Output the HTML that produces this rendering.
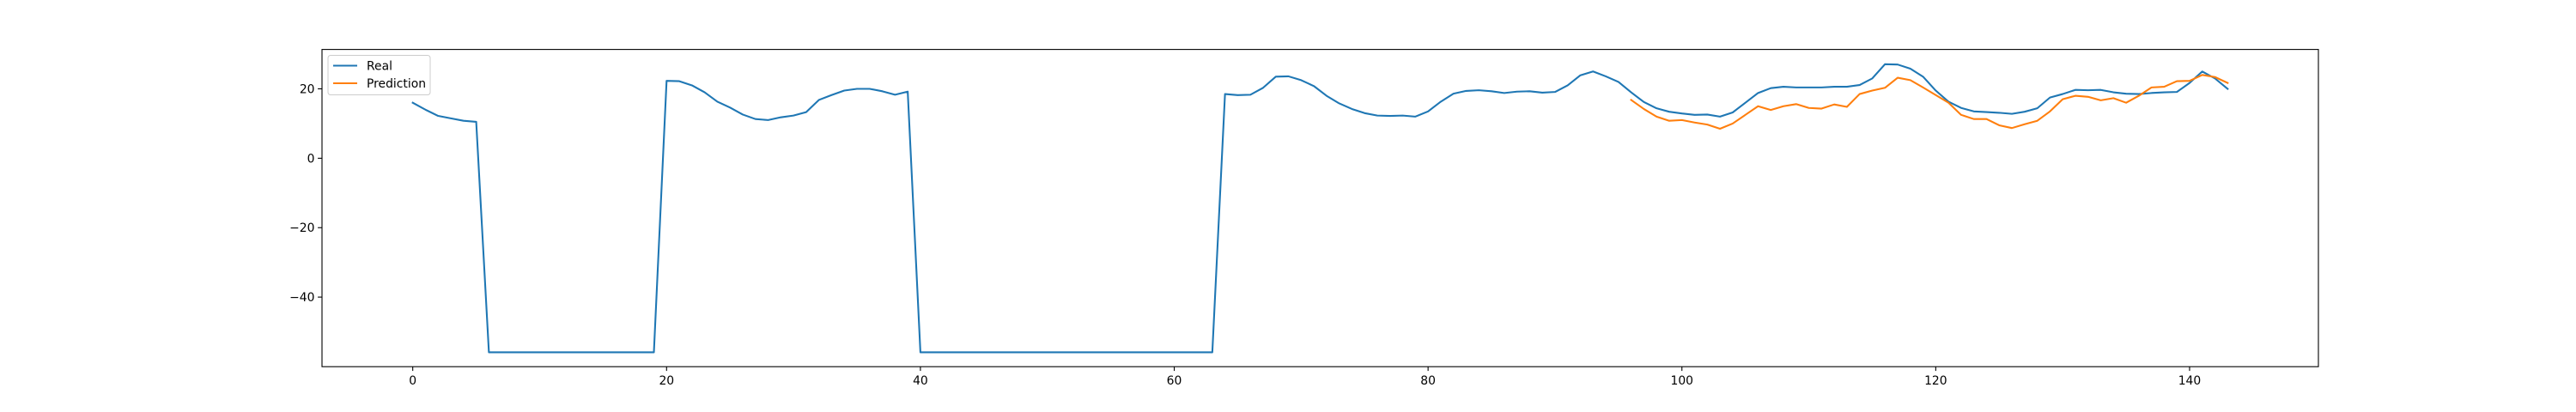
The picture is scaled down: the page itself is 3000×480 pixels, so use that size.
<!DOCTYPE html>
<html><head><meta charset="utf-8"><style>
body{margin:0;background:#fff;}
svg{display:block;font-family:"DejaVu Sans","Liberation Sans",sans-serif;}
</style></head><body>
<svg id="chart" width="3000" height="480">
<rect x="0" y="0" width="3000" height="480" fill="#fff"/>
<g id="plot"></g>
</svg>
<script>
const realX = Array.from({length:144},(_,i)=>i);
const realValues = [16,14,12.2,11.5,10.8,10.5,-55.9,-55.9,-55.9,-55.9,-55.9,-55.9,-55.9,-55.9,-55.9,-55.9,-55.9,-55.9,-55.9,-55.9,
22.3,22.2,21,19,16.3,14.6,12.6,11.3,11,11.8,12.3,13.3,16.8,18.2,19.5,20,20,19.3,18.3,19.2,
-55.9,-55.9,-55.9,-55.9,-55.9,-55.9,-55.9,-55.9,-55.9,-55.9,-55.9,-55.9,-55.9,-55.9,-55.9,-55.9,-55.9,-55.9,-55.9,-55.9,-55.9,-55.9,-55.9,-55.9,
18.5,18.2,18.3,20.3,23.5,23.6,22.5,20.8,18,15.8,14.2,13,12.3,12.2,12.3,12,13.5,16.3,18.6,19.4,19.6,19.3,18.8,19.2,19.3,18.9,19.1,21,23.9,25,23.6,22,
19,16.2,14.4,13.4,12.9,12.5,12.6,12,13.2,16,18.8,20.2,20.6,20.4,20.4,20.4,20.6,20.6,21.1,23,27.1,27,25.8,23.5,19.5,16.3,14.5,13.5,13.3,13.1,12.8,13.4,14.4,17.5,18.5,19.7,19.6,19.7,19,18.6,18.5,18.8,19,19.1,21.7,25,23,20];
const predX = Array.from({length:48},(_,i)=>96+i);
const predValues = [16.8,14.2,12,10.8,11,10.3,9.7,8.5,10,12.5,15,13.9,15,15.6,14.5,14.3,15.5,14.8,18.5,19.5,20.3,23.2,22.5,20.4,18.2,16,12.5,11.3,11.3,9.5,8.7,9.8,10.8,13.5,17,18,17.7,16.7,17.3,16,18,20.4,20.6,22.2,22.3,24,23.4,21.7];
const xTicks = [0,20,40,60,80,100,120,140];
const yTicks = [-40,-20,0,20];
const seriesNames = ["Real","Prediction"];

const L=375,R=2700,T=57.6,B=427.2;
const xmin=-7.15,xmax=150.15,ymin=-60.05,ymax=31.35;
const sx=v=>L+(v-xmin)/(xmax-xmin)*(R-L);
const sy=v=>B-(v-ymin)/(ymax-ymin)*(B-T);
const NS="http://www.w3.org/2000/svg";
const g=document.getElementById('plot');
function mk(t,a){const e=document.createElementNS(NS,t);for(const k in a)e.setAttribute(k,a[k]);g.appendChild(e);return e;}
function line(xs,ys,color,name){
  const p=mk('polyline',{points:xs.map((x,i)=>sx(x).toFixed(2)+','+sy(ys[i]).toFixed(2)).join(' '),fill:'none',stroke:color,'stroke-width':2.08,'stroke-linejoin':'round','stroke-linecap':'square'});
  
  
}
line(realX,realValues,'#1f77b4','real-series-line');
line(predX,predValues,'#ff7f0e','prediction-series-line');
const frame=mk('rect',{x:L,y:T,width:R-L,height:B-T,fill:'none',stroke:'#000','stroke-width':1.1});


xTicks.forEach(v=>{
  const t=mk('line',{x1:sx(v),x2:sx(v),y1:B,y2:B+4.9,stroke:'#000','stroke-width':1.1});
  
  
  const l=mk('text',{x:sx(v),y:B+21,'font-size':13.9,'text-anchor':'middle',fill:'#000'});
  l.textContent=v;
  
  
});
yTicks.forEach(v=>{
  const t=mk('line',{x1:L-4.9,x2:L,y1:sy(v),y2:sy(v),stroke:'#000','stroke-width':1.1});
  
  
  const l=mk('text',{x:L-8.5,y:sy(v)+5,'font-size':13.9,'text-anchor':'end',fill:'#000'});
  l.textContent=v<0?'\u2212'+(-v):v;
  
  
});
const lg=mk('rect',{x:382,y:64.5,width:119,height:46,rx:3,fill:'#fff','fill-opacity':0.8,stroke:'#ccc','stroke-width':1});


const cols=['#1f77b4','#ff7f0e'];
seriesNames.forEach((n,i)=>{
  const y=76.5+i*20.5;
  const s=mk('line',{x1:388,x2:416,y1:y,y2:y,stroke:cols[i],'stroke-width':2.08});
  
  
  const t=mk('text',{x:427,y:y+5,'font-size':13.9,fill:'#000'});
  t.textContent=n;
  
  
});
</script>
</body></html>
